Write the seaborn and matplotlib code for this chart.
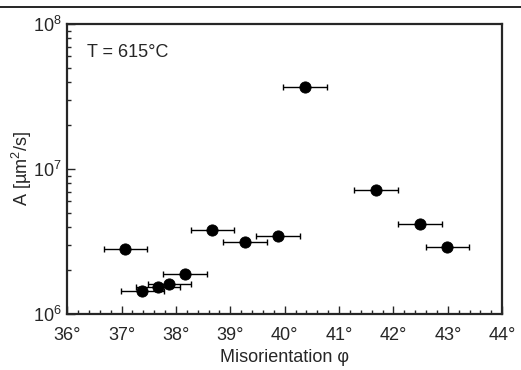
import matplotlib
matplotlib.use('Agg')
import matplotlib.pyplot as plt
import matplotlib.ticker as mticker
import numpy as np
import pandas as pd
import seaborn as sns

# misorientation (deg), A (um^2/s), x error (deg)
phi = [37.07, 37.38, 37.67, 37.88, 38.17, 38.67, 39.27, 39.88, 40.37, 41.68, 42.49, 42.99]
A = [2.8e6, 1.44e6, 1.54e6, 1.61e6, 1.89e6, 3.8e6, 3.14e6, 3.45e6, 3.68e7, 7.2e6, 4.2e6, 2.9e6]
phi_err = [0.4] * len(phi)

df = pd.DataFrame({'phi': phi, 'A': A})

sns.set_style('ticks')
plt.rcParams['font.family'] = ['Liberation Sans', 'DejaVu Sans']
plt.rcParams['mathtext.fontset'] = 'custom'
plt.rcParams['mathtext.rm'] = 'Liberation Sans'

fig, ax = plt.subplots(figsize=(5.21, 3.70), dpi=100)
fig.subplots_adjust(left=0.129, right=0.964, top=0.935, bottom=0.151)

ax.errorbar(phi, A, xerr=phi_err, fmt='none', ecolor='black', elinewidth=1.0,
            capsize=2.5, capthick=1.0, zorder=2)
sns.scatterplot(data=df, x='phi', y='A', ax=ax, color='black', s=65,
                edgecolor='black', zorder=3)

ax.set_yscale('log')
ax.set_xlim(36, 44)
ax.set_ylim(1e6, 1e8)

ax.xaxis.set_major_locator(mticker.MultipleLocator(1))
ax.xaxis.set_minor_locator(mticker.MultipleLocator(0.2))
ax.xaxis.set_major_formatter(mticker.FuncFormatter(lambda v, p: f'{v:.0f}°'))
ax.yaxis.set_major_locator(mticker.LogLocator(base=10, numticks=5))
ax.yaxis.set_minor_locator(mticker.LogLocator(base=10, subs=np.arange(2, 10), numticks=20))
ax.yaxis.set_minor_formatter(mticker.NullFormatter())
ax.yaxis.set_major_formatter(mticker.LogFormatterSciNotation())

ax.tick_params(which='both', direction='in', width=1.0, labelsize=13)
ax.tick_params(which='major', length=6)
ax.tick_params(which='minor', length=3)
ax.tick_params(axis='x', which='major', pad=9)
ax.tick_params(axis='y', which='major', pad=4)
for sp in ax.spines.values():
    sp.set_linewidth(1.6)
    sp.set_visible(True)

ax.set_xlabel('Misorientation φ', fontsize=13, labelpad=4)
ax.set_ylabel('A [µm$^2$/s]', fontsize=13, labelpad=-1)
ax.text(0.045, 0.885, 'T = 615°C', transform=ax.transAxes, fontsize=13)

fig.add_artist(plt.Line2D([0, 1], [0.982, 0.982], color='black', lw=1.2))

fig.savefig('out.png', dpi=100)
